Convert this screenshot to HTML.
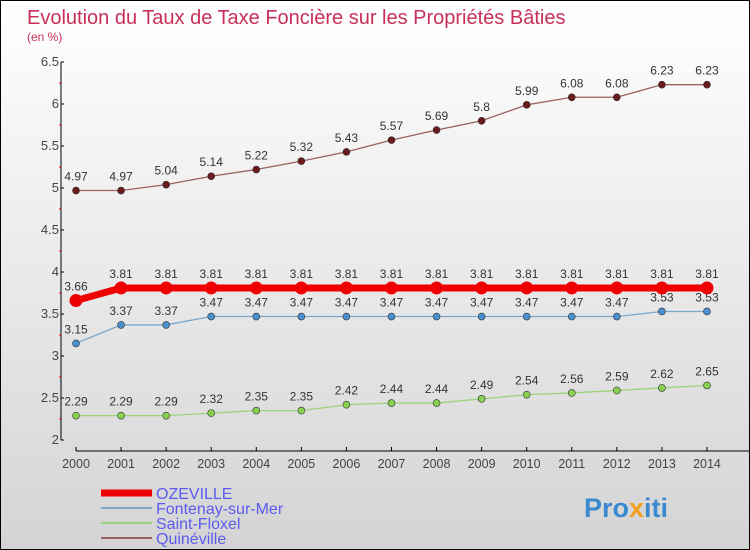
<!DOCTYPE html>
<html><head><meta charset="utf-8"><style>
body{margin:0}
#c{width:748px;height:548px;border:1px solid #000;background:linear-gradient(#fff,#d4d4d4);position:relative;font-family:"Liberation Sans",sans-serif;overflow:hidden}
</style></head><body>
<div id="c">
<svg id="s" width="748" height="548">
<text x="26" y="23" font-size="20" fill="#c8305a">Evolution du Taux de Taxe Foncière sur les Propriétés Bâties</text>
<text x="26" y="40" font-size="12" fill="#c8305a">(en %)</text>
<g id="ax"></g><g id="series"></g>
<g>
<line x1="100" y1="492" x2="151" y2="492" stroke="#e00" stroke-width="7"/>
<text x="155" y="498" font-size="16" fill="#5b5bf0">OZEVILLE</text>
<line x1="100" y1="507" x2="151" y2="507" stroke="#7aa8cc" stroke-width="2"/>
<text x="155" y="513" font-size="16" fill="#5b5bf0">Fontenay-sur-Mer</text>
<line x1="100" y1="522" x2="151" y2="522" stroke="#99d47a" stroke-width="2"/>
<text x="155" y="528" font-size="16" fill="#5b5bf0">Saint-Floxel</text>
<line x1="100" y1="537" x2="151" y2="537" stroke="#9a6060" stroke-width="2"/>
<text x="155" y="543" font-size="16" fill="#5b5bf0">Quinéville</text>
</g>
<text x="583" y="516" font-size="27" font-weight="bold" fill="#3a8ad0">Pro<tspan fill="#f0a020">x</tspan>iti</text>
</svg></div>
<script>
const years=[2000,2001,2002,2003,2004,2005,2006,2007,2008,2009,2010,2011,2012,2013,2014];
const yTicks=[2,2.5,3,3.5,4,4.5,5,5.5,6,6.5];
const ozeville=[3.66,3.81,3.81,3.81,3.81,3.81,3.81,3.81,3.81,3.81,3.81,3.81,3.81,3.81,3.81];
const fontenay=[3.15,3.37,3.37,3.47,3.47,3.47,3.47,3.47,3.47,3.47,3.47,3.47,3.47,3.53,3.53];
const floxel=[2.29,2.29,2.29,2.32,2.35,2.35,2.42,2.44,2.44,2.49,2.54,2.56,2.59,2.62,2.65];
const quineville=[4.97,4.97,5.04,5.14,5.22,5.32,5.43,5.57,5.69,5.8,5.99,6.08,6.08,6.23,6.23];
const NS="http://www.w3.org/2000/svg";
const X=i=>75+i*45.07, Y=v=>439-(v-2)*84;
function mk(p,t,a){const e=document.createElementNS(NS,t);for(const k in a)e.setAttribute(k,a[k]);p.appendChild(e);return e;}
const ax=document.getElementById('ax');
mk(ax,'line',{x1:60,y1:61,x2:60,y2:439,stroke:'#000'});
mk(ax,'line',{x1:75,y1:450,x2:748,y2:450,stroke:'#000'});
yTicks.forEach(v=>{mk(ax,'line',{x1:60,y1:Y(v),x2:63,y2:Y(v),stroke:'#000'});
 if(v<6.5)mk(ax,'line',{x1:58,y1:Y(v+0.25),x2:60,y2:Y(v+0.25),stroke:'#e00'});
 const t=mk(ax,'text',{x:58,y:Y(v)+4,'font-size':13,fill:'#444','text-anchor':'end'});t.textContent=v;
 });
years.forEach((y,i)=>{mk(ax,'line',{x1:X(i),y1:446,x2:X(i),y2:450,stroke:'#000'});
 const t=mk(ax,'text',{x:X(i),y:467,'font-size':12.5,fill:'#444','text-anchor':'middle'});t.textContent=y;
 });
const sg=document.getElementById('series');
function draw(d,color,fill,w,r,name){
 const g=mk(sg,'g',{});
 mk(g,'polyline',{points:d.map((v,i)=>X(i)+','+Y(v)).join(' '),fill:'none',stroke:color,'stroke-width':w});
 d.forEach((v,i)=>{const c=mk(g,'circle',{cx:X(i),cy:Y(v),r:r,fill:fill,stroke:'#333','stroke-width':r>5?0:0.6});
  
  const t=mk(g,'text',{x:X(i),y:Y(v)-10,'font-size':12,fill:'#333','text-anchor':'middle'});t.textContent=v;
  });
}
draw(quineville,'#9a6060','#6a1a1a',1.3,3.5,'quineville-series');
draw(floxel,'#99d47a','#88d050',1.3,3.5,'saint-floxel-series');
draw(fontenay,'#7aa8cc','#4a90d0',1.3,3.5,'fontenay-series');
draw(ozeville,'#ee0000','#ee0000',7,6.5,'ozeville-series');
</script>
</body></html>
